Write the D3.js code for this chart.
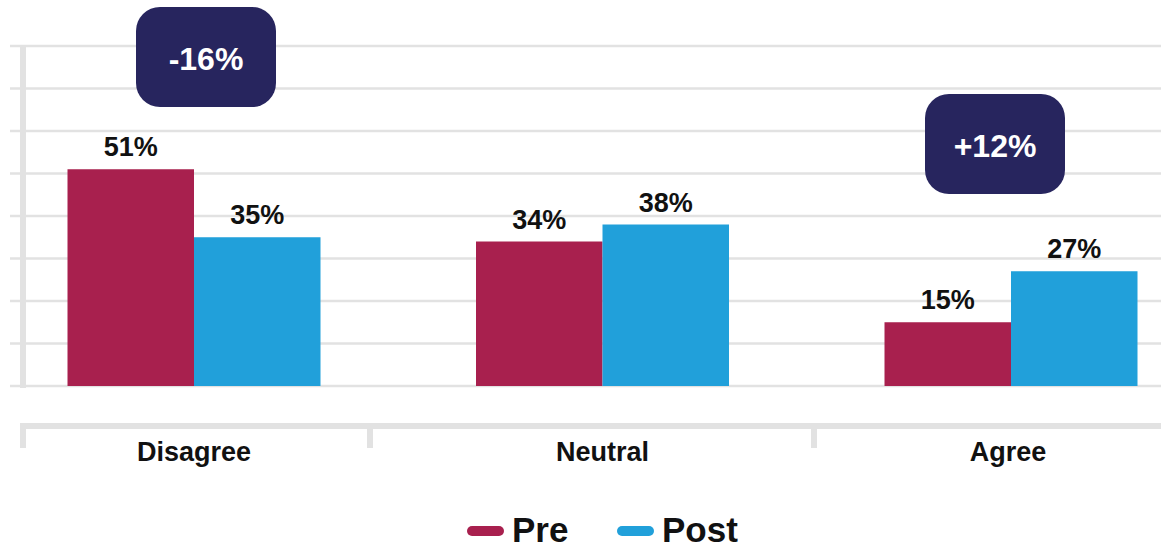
<!DOCTYPE html>
<html lang="en">
<head>
  <meta charset="UTF-8">
  <title>Pre / Post</title>
  <style>
    html, body {
      margin: 0;
      padding: 0;
      background: #ffffff;
    }
    svg text {
      font-family: 'Liberation Sans', Arial, sans-serif;
      font-weight: bold;
    }
  </style>
</head>
<body>
  <svg id="svg" width="1161" height="548"></svg>
  <script src="https://d3js.org/d3.v7.min.js"></script>
  <script>
    const categories = ['Disagree', 'Neutral', 'Agree']
    const series = ['Pre', 'Post']
    const preValues = [51, 34, 15]
    const postValues = [35, 38, 27]
    const changeLabels = ['-16%', '+12%']
    const changeCategories = ['Disagree', 'Agree']
    const gridTicks = [0, 10, 20, 30, 40, 50, 60, 70, 80]

    const colors = { Pre: '#a8204e', Post: '#21a0da' }
    const gridColor = '#e2e2e2'

    const svg = d3.select('#svg')

    const xScale = d3.scalePoint()
      .domain(categories)
      .range([194, 1011])
    const innerScale = d3.scaleBand()
      .domain(series)
      .range([-126.5, 126.5])
    const yScale = d3.scaleLinear()
      .domain([0, 80])
      .range([386, 46])

    // gridlines (they run past the left axis, like ticks)
    svg.append('g')
      .selectAll('line')
      .data(gridTicks)
      .enter()
      .append('line')
      .attr('x1', 10)
      .attr('x2', 1161)
      .attr('y1', d => yScale(d))
      .attr('y2', d => yScale(d))
      .attr('stroke', gridColor)
      .attr('stroke-width', 2.5)

    // left axis bar
    svg.append('rect')
      .attr('x', 20)
      .attr('y', yScale(80))
      .attr('width', 6)
      .attr('height', yScale(0) - yScale(80) + 2)
      .attr('fill', gridColor)

    // bars
    const rows = categories.map((c, i) => ({ category: c, Pre: preValues[i], Post: postValues[i] }))
    const groups = svg.append('g')
      .selectAll('g')
      .data(rows)
      .enter()
      .append('g')
      .attr('transform', d => `translate(${xScale(d.category)}, 0)`)

    const cells = groups.selectAll('g')
      .data(d => series.map(s => ({ key: s, value: d[s] })))
      .enter()
      .append('g')

    cells.append('rect')
      .attr('x', d => innerScale(d.key))
      .attr('y', d => yScale(d.value))
      .attr('width', innerScale.bandwidth())
      .attr('height', d => yScale(0) - yScale(d.value))
      .attr('fill', d => colors[d.key])

    cells.append('text')
      .text(d => d.value + '%')
      .attr('x', d => innerScale(d.key) + innerScale.bandwidth() / 2)
      .attr('y', d => yScale(d.value) - 13)
      .attr('text-anchor', 'middle')
      .style('font-size', '27px')
      .style('fill', '#111')

    // bottom axis (separate band with dividers)
    const axisY = 423
    const dividers = [20, 367, 811]
    svg.append('rect')
      .attr('x', 20)
      .attr('y', axisY)
      .attr('width', 1141)
      .attr('height', 6)
      .attr('fill', gridColor)
    svg.append('g')
      .selectAll('rect')
      .data(dividers)
      .enter()
      .append('rect')
      .attr('x', d => d)
      .attr('y', axisY)
      .attr('width', 6)
      .attr('height', 25)
      .attr('fill', gridColor)

    svg.append('g')
      .selectAll('text')
      .data(categories)
      .enter()
      .append('text')
      .text(d => d)
      .attr('x', d => xScale(d) + (d === 'Agree' ? -3 : 0))
      .attr('y', 461)
      .attr('text-anchor', 'middle')
      .style('font-size', '27px')
      .style('fill', '#111')

    // change annotations
    const boxOffsets = { Disagree: [12, 7], Agree: [-16, 94] }
    const notes = svg.append('g')
      .selectAll('g')
      .data(changeLabels.map((t, i) => ({ text: t, category: changeCategories[i] })))
      .enter()
      .append('g')
      .attr('transform', d => `translate(${xScale(d.category) + boxOffsets[d.category][0]}, ${boxOffsets[d.category][1]})`)
    notes.append('rect')
      .attr('x', -70)
      .attr('y', 0)
      .attr('width', 140)
      .attr('height', 100)
      .attr('rx', 24)
      .attr('fill', '#27255e')
    notes.append('text')
      .text(d => d.text)
      .attr('x', 0)
      .attr('y', 63)
      .attr('text-anchor', 'middle')
      .style('font-size', '32px')
      .style('fill', '#ffffff')

    // legend
    const legendItems = [
      { key: 'Pre', x: 467 },
      { key: 'Post', x: 617 }
    ]
    const legend = svg.append('g')
      .selectAll('g')
      .data(legendItems)
      .enter()
      .append('g')
      .attr('transform', d => `translate(${d.x}, 531)`)
    legend.append('line')
      .attr('x1', 5)
      .attr('x2', 32)
      .attr('y1', 0)
      .attr('y2', 0)
      .attr('stroke', d => colors[d.key])
      .attr('stroke-width', 10)
      .attr('stroke-linecap', 'round')
    legend.append('text')
      .text(d => d.key)
      .attr('x', 45)
      .attr('y', 11)
      .style('font-size', '35px')
      .style('fill', '#111')
  </script>
</body>
</html>
